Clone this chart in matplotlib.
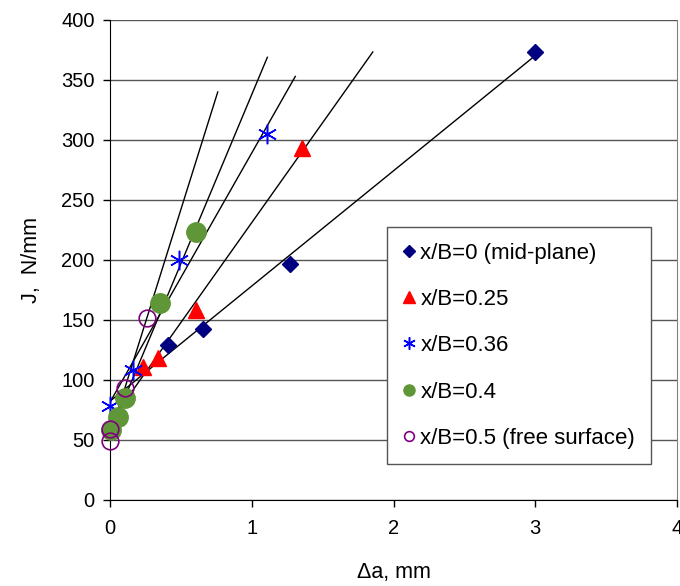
import matplotlib.pyplot as plt
import numpy as np

plt.rcParams['font.family'] = ['Liberation Sans', 'DejaVu Sans']

# Crack extension (mm) and J-integral (N/mm) per position through the thickness
labels = ['x/B=0 (mid-plane)', 'x/B=0.25', 'x/B=0.36', 'x/B=0.4',
          'x/B=0.5 (free surface)']

da_0 = [0.41, 0.656, 1.27, 3.0]
j_0 = [129, 142.5, 197, 373]

da_25 = [0.23, 0.34, 0.607, 1.354]
j_25 = [111, 118, 158, 293]

da_36 = [0.0, 0.16, 0.49, 1.107]
j_36 = [78, 108, 200, 305]

da_40 = [0.01, 0.056, 0.106, 0.35, 0.61]
j_40 = [58, 69, 85, 164, 223]

da_50 = [0.0, 0.0, 0.106, 0.26]
j_50 = [49, 59, 93, 152]

# forward extension of each linear trend line (mm)
forward = [0.0, 0.5, 0.2, 0.5, 0.5]

series = [(da_0, j_0), (da_25, j_25), (da_36, j_36), (da_40, j_40), (da_50, j_50)]

styles = [
    dict(marker='D', color='#000080', ms=8, mfc='#000080', mec='#000080'),
    dict(marker='^', color='#ff0000', ms=11, mfc='#ff0000', mec='#ff0000'),
    dict(marker=(6, 2, 0), color='#0000ff', ms=14, mfc='none', mec='#0000ff', mew=1.1),
    dict(marker='o', color='#66993a', ms=14, mfc='#5f9638', mec='#5f9638'),
    dict(marker='o', color='#800080', ms=12, mfc='none', mec='#800080', mew=1.2),
]
legend_ms = [6, 8, 9, 8, 7]

fig = plt.figure(figsize=(6.8, 5.86), dpi=100)
ax = fig.add_axes([0.1618, 0.1468, 0.8338, 0.8191])

ax.set_xlim(0, 4)
ax.set_ylim(0, 400)
ax.set_xticks(range(0, 5))
ax.set_yticks(range(0, 401, 50))
ax.yaxis.grid(True, color='#555555', linewidth=1)
ax.set_axisbelow(True)

# trend lines, extended back to zero crack growth
for (x, y), fw in zip(series, forward):
    k, b = np.polyfit(x, y, 1)
    xx = np.array([0.0, max(x) + fw])
    ax.plot(xx, k * xx + b, color='black', linewidth=1, zorder=2)

handles = []
for (x, y), st, lab, lms in zip(series, styles, labels, legend_ms):
    ax.plot(x, y, linestyle='none', zorder=3, clip_on=False, **st)
    h, = ax.plot([], [], linestyle='none', label=lab,
                 **{**st, 'ms': lms})
    handles.append(h)

ax.spines['top'].set_visible(False)
ax.spines['right'].set_color('#808080')
ax.tick_params(direction='out', length=5, width=1, labelsize=14.5)
ax.tick_params(axis='x', pad=9)
ax.tick_params(axis='y', pad=6)

ax.set_xlabel('Δa, mm', fontsize=15.5, labelpad=17)
ax.set_ylabel('J,  N/mm', fontsize=15.5, labelpad=14)

leg = ax.legend(handles=handles, loc='upper left', bbox_to_anchor=(387 / 680, 1 - 227 / 586),
                bbox_transform=fig.transFigure, fontsize=16, frameon=True,
                fancybox=False, edgecolor='#555555', framealpha=1,
                labelspacing=1.14, handlelength=0.6, handletextpad=0.2,
                borderpad=0.7, borderaxespad=0)
leg.get_frame().set_linewidth(1)

fig.savefig('out.png', dpi=100)
